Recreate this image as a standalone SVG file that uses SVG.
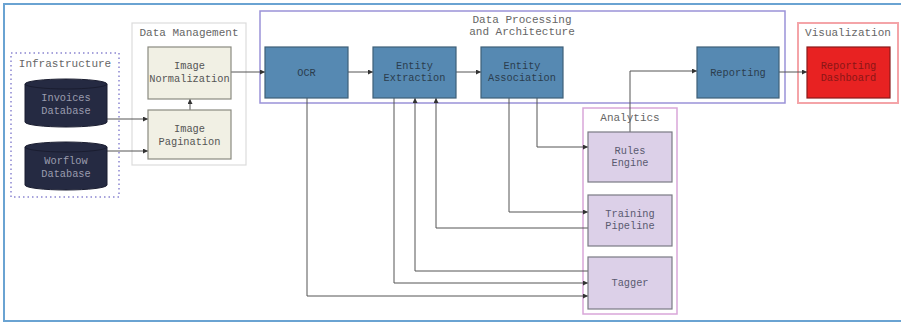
<svg xmlns="http://www.w3.org/2000/svg" width="901" height="323" viewBox="0 0 901 323">
<defs>
<marker id="ah" viewBox="0 0 6 6" refX="6" refY="3" markerWidth="5" markerHeight="5" orient="auto" markerUnits="userSpaceOnUse">
<path d="M0,0 L6,3 L0,6 z" fill="#333"/>
</marker>
<style>
text{font-family:"Liberation Mono","DejaVu Sans Mono",monospace;text-anchor:middle}
.cl{font-size:11px;fill:#666}
.nt{font-size:10.3px}
.blue rect{fill:#5689b2;stroke:#3e5f78;stroke-width:1.2}
.blue text{fill:#2b3d4e}
.beige rect{fill:#f1f0e4;stroke:#8a8a80;stroke-width:1.2}
.beige text{fill:#555}
.lav rect{fill:#dcd0e8;stroke:#7a7a84;stroke-width:1.2}
.lav text{fill:#5a5a70}
.db path{fill:#252a42;stroke:#1a1d30;stroke-width:1}
.db text{fill:#9a9cae}
.e{fill:none;stroke:#555;stroke-width:1;marker-end:url(#ah)}
.e2{fill:none;stroke:#555;stroke-width:1}
</style>
</defs>
<rect x="0" y="0" width="901" height="323" fill="#fff"/>
<rect x="4" y="4" width="905" height="317" fill="none" stroke="#6aa3d2" stroke-width="2"/>

<g id="cluster-infrastructure">
<rect x="11" y="53" width="108" height="144" fill="none" stroke="#a7a3dc" stroke-width="2" stroke-dasharray="1.5,3"/>
<text class="cl" x="65" y="67">Infrastructure</text>
</g>
<g id="cluster-data-management">
<rect x="132" y="23" width="114" height="142" fill="#fff" stroke="#dcdcdc" stroke-width="1.2"/>
<text class="cl" x="189" y="36">Data Management</text>
</g>
<g id="cluster-data-processing">
<rect x="260" y="11" width="525" height="92" fill="none" stroke="#9a92d8" stroke-width="1.5"/>
<text class="cl" x="522" y="23">Data Processing</text>
<text class="cl" x="522" y="35">and Architecture</text>
</g>
<g id="cluster-visualization">
<rect x="798" y="23" width="100" height="80" fill="none" stroke="#f4a4a8" stroke-width="2"/>
<text class="cl" x="848" y="36">Visualization</text>
</g>
<g id="cluster-analytics">
<rect x="583" y="108" width="94" height="206" fill="none" stroke="#d9a6d9" stroke-width="1.5"/>
<text class="cl" x="630" y="121">Analytics</text>
</g>

<g id="connectors">
<path class="e" d="M107,119 H148"/>
<path class="e" d="M107,151 H148"/>
<path class="e" d="M190,110 V99"/>
<path class="e" d="M231,72 H265"/>
<path class="e" d="M348,72 H373"/>
<path class="e" d="M456,72 H481"/>
<path class="e" d="M779,72 H807"/>
<path class="e" d="M630,132 V71 H697"/>
<path class="e" d="M307,98 V296 H588"/>
<path class="e" d="M394,98 V283 H588"/>
<path class="e" d="M588,271 H415 V98"/>
<path class="e" d="M588,228 H436 V98"/>
<path class="e" d="M509,98 V212 H588"/>
<path class="e" d="M537,98 V147 H588"/>
</g>

<g id="invoices-db" class="db">
<path d="M25,84 A41,5 0 0 1 107,84 V122 A41,5 0 0 1 25,122 Z"/>
<path d="M25,84 A41,5 0 0 0 107,84" fill="none" stroke="#444a60"/>
<text class="nt" x="66" y="101">Invoices</text>
<text class="nt" x="66" y="114">Database</text>
</g>
<g id="worflow-db" class="db">
<path d="M25,147 A41,5 0 0 1 107,147 V185 A41,5 0 0 1 25,185 Z"/>
<path d="M25,147 A41,5 0 0 0 107,147" fill="none" stroke="#444a60"/>
<text class="nt" x="66" y="164">Worflow</text>
<text class="nt" x="66" y="177">Database</text>
</g>

<g id="image-normalization" class="beige">
<rect x="148" y="47" width="83" height="52"/>
<text class="nt" x="189.5" y="69">Image</text>
<text class="nt" x="189.5" y="82">Normalization</text>
</g>
<g id="image-pagination" class="beige">
<rect x="148" y="110" width="83" height="49"/>
<text class="nt" x="189.5" y="132">Image</text>
<text class="nt" x="189.5" y="145">Pagination</text>
</g>

<g id="ocr" class="blue">
<rect x="265" y="47" width="83" height="51"/>
<text class="nt" x="306.5" y="76">OCR</text>
</g>
<g id="entity-extraction" class="blue">
<rect x="373" y="47" width="83" height="51"/>
<text class="nt" x="414.5" y="68.5">Entity</text>
<text class="nt" x="414.5" y="81">Extraction</text>
</g>
<g id="entity-association" class="blue">
<rect x="481" y="47" width="82" height="51"/>
<text class="nt" x="522" y="68.5">Entity</text>
<text class="nt" x="522" y="81">Association</text>
</g>
<g id="reporting" class="blue">
<rect x="697" y="47" width="82" height="51"/>
<text class="nt" x="738" y="76">Reporting</text>
</g>
<g id="reporting-dashboard">
<rect x="807" y="47" width="83" height="51" fill="#e82222" stroke="#8a1a1a" stroke-width="1.2"/>
<text class="nt" x="848.5" y="68.5" fill="#8a1616">Reporting</text>
<text class="nt" x="848.5" y="81" fill="#8a1616">Dashboard</text>
</g>

<g id="rules-engine" class="lav">
<rect x="588" y="132" width="84" height="50"/>
<text class="nt" x="630" y="154">Rules</text>
<text class="nt" x="630" y="166">Engine</text>
</g>
<g id="training-pipeline" class="lav">
<rect x="588" y="195" width="84" height="51"/>
<text class="nt" x="630" y="217">Training</text>
<text class="nt" x="630" y="229">Pipeline</text>
</g>
<g id="tagger" class="lav">
<rect x="588" y="257" width="84" height="52"/>
<text class="nt" x="630" y="286">Tagger</text>
</g>
</svg>
